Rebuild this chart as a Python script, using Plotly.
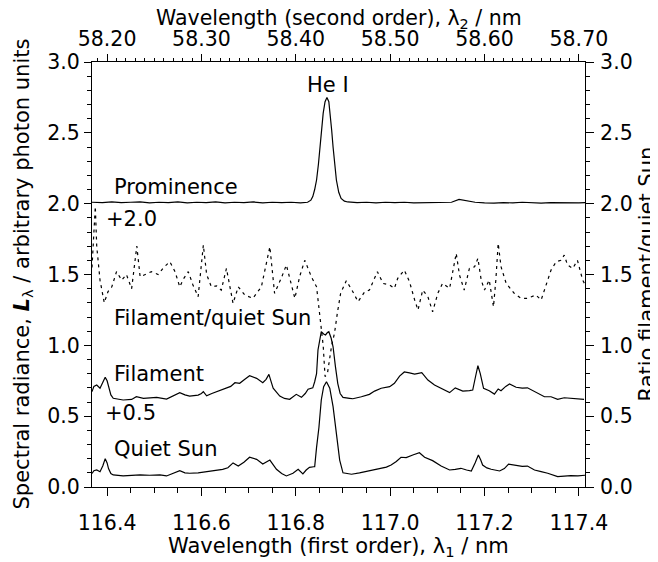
import plotly.graph_objects as go

# ---------------- data ----------------
qs_wl = [116.368, 116.372, 116.378, 116.385, 116.391, 116.396, 116.400, 116.403, 116.408, 116.413,
         116.434, 116.452, 116.470, 116.490, 116.512, 116.526, 116.540, 116.554, 116.565, 116.575,
         116.593, 116.611, 116.632, 116.645, 116.656, 116.667, 116.678, 116.690, 116.702, 116.717,
         116.730, 116.745, 116.759, 116.770, 116.780, 116.794, 116.805, 116.815, 116.822, 116.829,
         116.838, 116.840, 116.844, 116.849, 116.854, 116.859, 116.865, 116.872, 116.879, 116.886,
         116.893, 116.900, 116.918, 116.935, 116.946, 116.960, 116.970, 116.981, 116.992, 117.002,
         117.013, 117.023, 117.034, 117.048, 117.062, 117.073, 117.090, 117.108, 117.126, 117.138,
         117.150, 117.162, 117.172, 117.180, 117.187, 117.192, 117.196, 117.205, 117.214, 117.232,
         117.242, 117.251, 117.267, 117.280, 117.291, 117.306, 117.320, 117.334, 117.355, 117.370,
         117.383, 117.398, 117.413]
qs_val = [0.095, 0.115, 0.120, 0.108, 0.150, 0.200, 0.170, 0.130, 0.095, 0.085,
          0.078, 0.082, 0.085, 0.083, 0.085, 0.078, 0.095, 0.115, 0.100, 0.097,
          0.100, 0.108, 0.120, 0.125, 0.136, 0.170, 0.148, 0.175, 0.210, 0.195,
          0.162, 0.190, 0.125, 0.095, 0.078, 0.097, 0.125, 0.092, 0.120, 0.139,
          0.143, 0.143, 0.280, 0.420, 0.614, 0.708, 0.743, 0.697, 0.567, 0.380,
          0.190, 0.100, 0.090, 0.100, 0.108, 0.115, 0.120, 0.132, 0.140, 0.155,
          0.180, 0.210, 0.207, 0.226, 0.242, 0.210, 0.186, 0.148, 0.120, 0.125,
          0.132, 0.120, 0.113, 0.170, 0.226, 0.190, 0.155, 0.135, 0.125, 0.113,
          0.130, 0.162, 0.155, 0.145, 0.148, 0.120, 0.108, 0.097, 0.073, 0.078,
          0.080, 0.078, 0.083]

fil_wl = [116.368, 116.372, 116.378, 116.385, 116.391, 116.396, 116.400, 116.403, 116.408, 116.413,
          116.434, 116.452, 116.462, 116.477, 116.490, 116.505, 116.526, 116.540, 116.554, 116.565,
          116.575, 116.593, 116.600, 116.604, 116.611, 116.622, 116.632, 116.643, 116.653, 116.662,
          116.671, 116.681, 116.692, 116.702, 116.717, 116.730, 116.737, 116.743, 116.748, 116.752,
          116.766, 116.776, 116.787, 116.801, 116.812, 116.820, 116.826, 116.836, 116.840, 116.844,
          116.847, 116.851, 116.854, 116.859, 116.863, 116.867, 116.870, 116.875, 116.879, 116.884,
          116.889, 116.894, 116.900, 116.914, 116.921, 116.939, 116.956, 116.967, 116.981, 116.999,
          117.009, 117.020, 117.030, 117.041, 117.052, 117.067, 117.080, 117.094, 117.108, 117.126,
          117.138, 117.154, 117.168, 117.175, 117.181, 117.186, 117.191, 117.198, 117.210, 117.221,
          117.229, 117.235, 117.245, 117.253, 117.267, 117.280, 117.291, 117.306, 117.327, 117.341,
          117.355, 117.369, 117.383, 117.398, 117.411]
fil_val = [0.173, 0.210, 0.220, 0.197, 0.240, 0.274, 0.250, 0.208, 0.150, 0.126,
           0.114, 0.118, 0.137, 0.126, 0.130, 0.133, 0.121, 0.145, 0.166, 0.150,
           0.142, 0.149, 0.160, 0.173, 0.144, 0.160, 0.173, 0.185, 0.200, 0.210,
           0.236, 0.232, 0.260, 0.285, 0.267, 0.236, 0.260, 0.295, 0.240, 0.197,
           0.142, 0.125, 0.119, 0.154, 0.133, 0.160, 0.190, 0.200, 0.243, 0.300,
           0.467, 0.560, 0.596, 0.580, 0.573, 0.590, 0.596, 0.550, 0.490, 0.350,
           0.230, 0.160, 0.133, 0.126, 0.123, 0.137, 0.154, 0.177, 0.197, 0.208,
           0.232, 0.283, 0.312, 0.305, 0.297, 0.307, 0.255, 0.220, 0.197, 0.166,
           0.200, 0.177, 0.180, 0.184, 0.280, 0.356, 0.300, 0.197, 0.180, 0.156,
           0.192, 0.180, 0.210, 0.227, 0.204, 0.198, 0.200, 0.173, 0.137, 0.137,
           0.119, 0.130, 0.126, 0.125, 0.119]
fil_offset = 0.5

prom_wl = [116.368, 116.390, 116.410, 116.430, 116.450, 116.470, 116.490, 116.510, 116.530, 116.550,
           116.570, 116.590, 116.610, 116.630, 116.650, 116.670, 116.690, 116.710, 116.730, 116.750,
           116.770, 116.790, 116.810, 116.825, 116.832, 116.836, 116.840, 116.844, 116.848, 116.851,
           116.855, 116.858, 116.862, 116.866, 116.870, 116.873, 116.876, 116.879, 116.883, 116.886,
           116.891, 116.896, 116.903, 116.910, 116.930, 116.950, 116.970, 116.990, 117.010, 117.030,
           117.050, 117.070, 117.090, 117.110, 117.130, 117.146, 117.160, 117.180, 117.200, 117.220,
           117.240, 117.260, 117.280, 117.300, 117.320, 117.340, 117.360, 117.380, 117.400, 117.413]
prom_val = [0.010, 0.008, 0.012, 0.008, 0.010, 0.012, 0.006, 0.010, 0.008, 0.012,
            0.006, 0.010, 0.008, 0.012, 0.006, 0.010, 0.008, 0.012, 0.006, 0.010,
            0.008, 0.010, 0.006, 0.010, 0.025, 0.050, 0.100, 0.167, 0.280, 0.400,
            0.550, 0.637, 0.720, 0.750, 0.720, 0.637, 0.520, 0.400, 0.270, 0.167,
            0.080, 0.037, 0.018, 0.012, 0.008, 0.010, 0.006, 0.010, 0.008, 0.010,
            0.006, 0.008, 0.010, 0.008, 0.010, 0.030, 0.020, 0.010, 0.006, 0.004,
            0.008, 0.005, 0.010, 0.006, 0.004, 0.008, 0.006, 0.008, 0.006, 0.008]
prom_offset = 2.0

ratio_wl = [116.368, 116.372, 116.375, 116.378, 116.385, 116.394, 116.402, 116.410, 116.420, 116.431,
            116.441, 116.452, 116.463, 116.470, 116.480, 116.494, 116.508, 116.520, 116.533, 116.544,
            116.554, 116.562, 116.572, 116.582, 116.593, 116.604, 116.611, 116.621, 116.632, 116.642,
            116.653, 116.667, 116.678, 116.692, 116.709, 116.727, 116.745, 116.755, 116.769, 116.780,
            116.798, 116.808, 116.819, 116.833, 116.844, 116.851, 116.858, 116.862, 116.867, 116.876,
            116.882, 116.888, 116.895, 116.907, 116.919, 116.932, 116.946, 116.956, 116.973, 116.985,
            116.999, 117.009, 117.016, 117.030, 117.041, 117.052, 117.059, 117.069, 117.080, 117.090,
            117.101, 117.111, 117.126, 117.140, 117.147, 117.157, 117.168, 117.179, 117.186, 117.193,
            117.200, 117.210, 117.219, 117.224, 117.229, 117.235, 117.246, 117.263, 117.277, 117.291,
            117.309, 117.320, 117.334, 117.341, 117.352, 117.362, 117.369, 117.376, 117.387, 117.397,
            117.408, 117.413]
ratio_val = [1.55, 1.85, 1.98, 1.70, 1.46, 1.30, 1.38, 1.413, 1.52, 1.46,
             1.50, 1.40, 1.70, 1.484, 1.50, 1.52, 1.50, 1.55, 1.59, 1.52,
             1.413, 1.47, 1.52, 1.426, 1.343, 1.708, 1.50, 1.413, 1.42, 1.39,
             1.543, 1.296, 1.413, 1.355, 1.332, 1.413, 1.696, 1.367, 1.473, 1.567,
             1.332, 1.484, 1.60, 1.484, 1.413, 1.20, 1.00, 0.78, 0.80, 1.00,
             1.085, 1.226, 1.367, 1.456, 1.39, 1.308, 1.378, 1.39, 1.52, 1.437,
             1.426, 1.402, 1.473, 1.531, 1.449, 1.32, 1.249, 1.39, 1.343, 1.237,
             1.367, 1.437, 1.402, 1.649, 1.496, 1.39, 1.543, 1.555, 1.614, 1.461,
             1.39, 1.461, 1.272, 1.461, 1.72, 1.555, 1.437, 1.367, 1.332, 1.332,
             1.355, 1.32, 1.461, 1.531, 1.59, 1.60, 1.637, 1.567, 1.543, 1.60,
             1.461, 1.43]

x1_range = [116.368, 117.413]
order_ratio = 2.0
bottom_ticks = [116.4, 116.6, 116.8, 117.0, 117.2, 117.4]
top_ticks = [58.20, 58.30, 58.40, 58.50, 58.60, 58.70]
y_ticks = [0.0, 0.5, 1.0, 1.5, 2.0, 2.5, 3.0]

# ---------------- figure ----------------
FONT = "DejaVu Sans"
TICK_SIZE = 20.5
TEXT_SIZE = 21
line = dict(color="black", width=1.2)

fig = go.Figure()
fig.add_trace(go.Scatter(x=qs_wl, y=qs_val, mode="lines", line=line, hoverinfo="skip"))
fig.add_trace(go.Scatter(x=fil_wl, y=[v + fil_offset for v in fil_val], mode="lines",
                         line=line, hoverinfo="skip"))
fig.add_trace(go.Scatter(x=prom_wl, y=[v + prom_offset for v in prom_val], mode="lines",
                         line=line, hoverinfo="skip"))
fig.add_trace(go.Scatter(x=ratio_wl, y=ratio_val, mode="lines", yaxis="y2",
                         line=dict(color="black", width=1.2, dash="3px,4px"), hoverinfo="skip"))
# invisible trace to carry the second-order wavelength axis
fig.add_trace(go.Scatter(x=[w / order_ratio for w in qs_wl], y=qs_val, xaxis="x2", mode="lines",
                         line=dict(color="rgba(0,0,0,0)", width=0), hoverinfo="skip"))

ax_common = dict(showline=True, linecolor="black", linewidth=1, ticks="outside",
                 tickcolor="black", tickwidth=1, showgrid=False, zeroline=False,
                 automargin=False,
                 tickfont=dict(family=FONT, size=TICK_SIZE, color="black"))

# the page body adds an 8 px margin, so the figure is slightly smaller than the window
fig.update_layout(
    width=650, height=554,
    margin=dict(l=84, r=73, t=54, b=75),
    paper_bgcolor="white", plot_bgcolor="white",
    showlegend=False,
    font=dict(family=FONT, size=TEXT_SIZE, color="black"),
    xaxis=dict(**ax_common, range=x1_range, tickvals=bottom_ticks, tickformat=".1f",
               ticklen=8, ticklabelstandoff=9,
               minor=dict(dtick=0.05, tick0=116.4, ticks="outside", ticklen=5,
                          tickcolor="black", tickwidth=1)),
    xaxis2=dict(**ax_common, overlaying="x", side="top", anchor="y",
                range=[x1_range[0] / order_ratio, x1_range[1] / order_ratio],
                tickvals=top_ticks, tickformat=".2f", ticklen=7, ticklabelstandoff=0,
                minor=dict(dtick=0.01, tick0=58.2, ticks="outside", ticklen=3,
                           tickcolor="black", tickwidth=1)),
    yaxis=dict(**ax_common, range=[0, 3], tickvals=y_ticks, tickformat=".1f",
               ticklen=7, ticklabelstandoff=0,
               minor=dict(dtick=0.1, tick0=0, ticks="outside", ticklen=4,
                          tickcolor="black", tickwidth=1)),
    yaxis2=dict(**ax_common, overlaying="y", side="right", anchor="x", range=[0, 3],
                tickvals=y_ticks, tickformat=".1f", ticklen=8, ticklabelstandoff=2,
                minor=dict(dtick=0.1, tick0=0, ticks="outside", ticklen=4,
                           tickcolor="black", tickwidth=1)),
)

# axis titles
axis_titles = [
    ("Wavelength (first order), λ<sub>1</sub> / nm", 0.5, 0.0, 0, -60, 0, TEXT_SIZE),
    ("Wavelength (second order), λ<sub>2</sub> / nm", 0.5, 1.0, 0, 43, 0, 20.5),
    ("Spectral radiance, <b><i>L</i></b><sub>λ</sub> / arbitrary photon units", 0.0, 0.5, -70, 0, -90, TEXT_SIZE),
    ("Ratio filament/quiet Sun", 1.0, 0.5, 61, 0, -90, TEXT_SIZE),
]
for txt, xp, yp, xs, ys, ang, sz in axis_titles:
    fig.add_annotation(x=xp, y=yp, xref="paper", yref="paper", text=txt, showarrow=False,
                       xanchor="center", yanchor="middle", xshift=xs, yshift=ys,
                       textangle=ang, font=dict(family=FONT, size=sz, color="black"))

labels = [
    ("He I", 116.8675, 2.84, "center"),
    ("Prominence", 116.410, 2.117, "left"),
    ("+2.0", 116.393, 1.889, "left"),
    ("Filament/quiet Sun", 116.410, 1.19, "left"),
    ("Filament", 116.410, 0.795, "left"),
    ("+0.5", 116.391, 0.52, "left"),
    ("Quiet Sun", 116.410, 0.266, "left"),
]
for txt, xv, yv, anc in labels:
    fig.add_annotation(x=xv, y=yv, xref="x", yref="y", text=txt, showarrow=False,
                       xanchor=anc, yanchor="middle",
                       font=dict(family=FONT, size=TEXT_SIZE, color="black"))

fig.write_html("out.html")
